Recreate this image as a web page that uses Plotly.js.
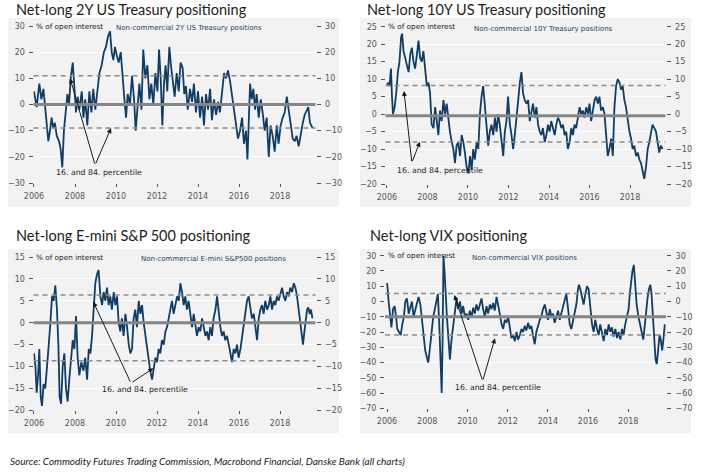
<!DOCTYPE html>
<html><head><meta charset="utf-8">
<script src="https://cdn.plot.ly/plotly-3.0.1.min.js"></script>
<style>body{margin:0;background:#fff}#chart{width:711px;height:474px}</style>
</head><body><div id="chart"></div><script>
// ---------- DATA ----------
const dates2Y = [2006.00,2006.13,2006.26,2006.36,2006.46,2006.54,2006.62,2006.70,2006.78,2006.86,
2006.94,2007.02,2007.11,2007.22,2007.30,2007.38,2007.46,2007.54,2007.63,2007.71,
2007.79,2007.89,2007.97,2008.05,2008.13,2008.21,2008.33,2008.41,2008.50,2008.60,
2008.70,2008.80,2008.89,2008.99,2009.09,2009.19,2009.30,2009.41,2009.51,2009.61,
2009.71,2009.79,2009.87,2009.95,2010.03,2010.13,2010.23,2010.33,2010.41,2010.49,
2010.57,2010.68,2010.78,2010.88,2010.96,2011.04,2011.14,2011.24,2011.33,2011.43,
2011.53,2011.63,2011.72,2011.82,2011.92,2012.02,2012.10,2012.18,2012.26,2012.34,
2012.42,2012.50,2012.60,2012.68,2012.76,2012.86,2012.96,2013.06,2013.15,2013.25,
2013.33,2013.41,2013.50,2013.61,2013.71,2013.80,2013.90,2014.00,2014.10,2014.20,
2014.29,2014.39,2014.49,2014.59,2014.68,2014.78,2014.88,2014.98,2015.07,2015.17,
2015.27,2015.37,2015.46,2015.56,2015.66,2015.76,2015.85,2015.95,2016.05,2016.15,
2016.24,2016.34,2016.41,2016.47,2016.54,2016.62,2016.70,2016.78,2016.86,2016.96,
2017.06,2017.15,2017.25,2017.35,2017.45,2017.54,2017.64,2017.74,2017.84,2017.93,
2018.03,2018.13,2018.23,2018.33,2018.42,2018.52,2018.62,2018.72,2018.81,2018.91,
2019.01,2019.11,2019.20,2019.30,2019.38,2019.46,2019.54,2019.59];
const netLong2Y = [5,-1,8,2,6,0,-6,-14,-10,-5,
-9,-7,-12,-14,-17,-24,-10,-3,4,0,
10,16,8,-3,3,-2,5,-5,2,-8,
5,-3,6,-2,5,12,15,20,22,26,
28,20,17,22,19,16,20,8,2,-5,
4,0,11,2,-10,-2,8,-2,21,10,
15,2,8,0,12,5,21,10,-8,8,
15,5,22,15,10,3,12,5,16,14,
4,7,-2,6,1,8,-3,5,-5,3,
-8,4,-2,6,-6,2,-4,1,-3,4,
12,10,13,9,3,-3,-8,-13,-10,-5,
-15,-10,-21,-5,8,2,6,-2,4,-5,
2,-3,-10,-5,-20,-8,-12,-18,-8,-15,
-8,-5,-3,3,-2,-8,-13,-14,-12,-16,
-11,-7,-4,-2,-1,-7,-8,-9];

const dates10Y = [2006.00,2006.05,2006.13,2006.20,2006.25,2006.30,2006.38,2006.46,2006.54,2006.62,
2006.70,2006.75,2006.82,2006.90,2006.98,2007.07,2007.15,2007.23,2007.31,2007.39,
2007.48,2007.56,2007.64,2007.72,2007.80,2007.89,2007.97,2008.05,2008.13,2008.21,
2008.30,2008.38,2008.46,2008.54,2008.62,2008.70,2008.79,2008.87,2008.95,2009.03,
2009.11,2009.20,2009.28,2009.36,2009.44,2009.52,2009.61,2009.69,2009.77,2009.85,
2009.93,2010.02,2010.10,2010.18,2010.26,2010.34,2010.43,2010.51,2010.59,2010.67,
2010.75,2010.84,2010.92,2011.00,2011.08,2011.16,2011.25,2011.33,2011.41,2011.49,
2011.57,2011.66,2011.74,2011.82,2011.90,2011.98,2012.07,2012.15,2012.23,2012.31,
2012.39,2012.48,2012.56,2012.64,2012.72,2012.80,2012.89,2012.97,2013.05,2013.13,
2013.21,2013.30,2013.38,2013.46,2013.54,2013.62,2013.70,2013.79,2013.87,2013.95,
2014.03,2014.11,2014.20,2014.28,2014.36,2014.44,2014.52,2014.61,2014.69,2014.77,
2014.85,2014.93,2015.02,2015.10,2015.18,2015.26,2015.34,2015.43,2015.51,2015.59,
2015.67,2015.75,2015.84,2015.92,2016.00,2016.08,2016.16,2016.25,2016.33,2016.41,
2016.49,2016.57,2016.66,2016.74,2016.82,2016.90,2016.98,2017.07,2017.15,2017.23,
2017.31,2017.39,2017.48,2017.56,2017.64,2017.72,2017.80,2017.89,2017.97,2018.05,
2018.13,2018.21,2018.30,2018.38,2018.46,2018.54,2018.62,2018.70,2018.79,2018.87,
2018.95,2019.03,2019.11,2019.20,2019.28,2019.36,2019.44,2019.52,2019.61];
const netLong10Y = [8,9,8,13,5,0,2,6,12,15,
22,23,18,16,14,12,17,19,15,13,
17,21,16,15,18,12,8,9,6,-3,
-4,2,-2,-6,1,-2,4,0,3,-2,
-5,-8,-10,-14,-9,-8,-12,-6,-8,-11,
-15,-17,-12,-16,-10,-13,-8,-10,0,5,
8,2,-3,-9,-5,-3,-6,-1,-5,0,
-3,-8,-12,-5,-2,5,-3,-6,-10,-6,
-2,4,9,12,6,4,3,4,-2,1,
3,-1,2,-3,-5,-6,-4,-8,-6,-3,
-5,-2,-4,-6,-3,-1,-2,-4,-3,-6,
-5,-10,-8,-4,-6,-3,-4,-1,2,0,
1,-1,2,0,3,-2,1,4,5,3,
5,1,2,0,-6,-12,-10,-7,-12,2,
8,10,9,7,8,4,2,-2,-5,-7,
-10,-9,-12,-11,-13,-14,-16,-18.5,-15,-10,
-8,-5,-3,-4,-5,-8,-11,-9,-10];

const datesSPX = [2006.00,2006.07,2006.13,2006.20,2006.26,2006.33,2006.39,2006.47,2006.55,2006.63,
2006.72,2006.80,2006.88,2006.96,2007.04,2007.12,2007.19,2007.25,2007.32,2007.40,
2007.48,2007.56,2007.64,2007.72,2007.80,2007.89,2007.97,2008.05,2008.13,2008.21,
2008.31,2008.41,2008.50,2008.59,2008.67,2008.75,2008.83,2008.91,2008.99,2009.07,
2009.15,2009.24,2009.32,2009.40,2009.48,2009.56,2009.64,2009.72,2009.80,2009.89,
2009.97,2010.05,2010.13,2010.21,2010.29,2010.37,2010.46,2010.54,2010.62,2010.70,
2010.78,2010.86,2010.94,2011.02,2011.11,2011.19,2011.27,2011.35,2011.43,2011.51,
2011.59,2011.67,2011.76,2011.84,2011.92,2012.00,2012.08,2012.16,2012.24,2012.33,
2012.41,2012.49,2012.57,2012.65,2012.73,2012.81,2012.89,2012.98,2013.06,2013.14,
2013.22,2013.30,2013.38,2013.46,2013.54,2013.63,2013.71,2013.79,2013.87,2013.95,
2014.03,2014.11,2014.20,2014.28,2014.36,2014.44,2014.52,2014.60,2014.68,2014.76,
2014.85,2014.93,2015.01,2015.09,2015.17,2015.25,2015.33,2015.41,2015.50,2015.58,
2015.66,2015.74,2015.82,2015.90,2015.98,2016.07,2016.15,2016.23,2016.31,2016.39,
2016.47,2016.55,2016.63,2016.72,2016.80,2016.88,2016.96,2017.04,2017.12,2017.20,
2017.28,2017.37,2017.45,2017.53,2017.61,2017.69,2017.77,2017.85,2017.93,2018.02,
2018.10,2018.18,2018.26,2018.34,2018.42,2018.50,2018.59,2018.67,2018.75,2018.83,
2018.91,2018.99,2019.07,2019.12,2019.19,2019.25,2019.32,2019.38,2019.45,2019.51,2019.58];
const netLongSPX = [-7,-10,-16,-12,-6,-17,-19,-14,-15,-11,
-5,0,6,5,8.5,3,-5,-17,-18.5,-10,
-7,-15,-18,-13,-8,-4,-6,1.5,-8,-12,
-9,-11,-8,-13,-6,-7,-3,2,9,11,
12,6,4,7,5,8,4,6,3,7,
4,6,0,-2,1,-3,2,-1,-5,-7,
-6,1,3,-1,5,2,4,0,-3,-6,
-9,-11,-13,-10,-8,-9,-6,-7,-4,-5,
-2,-1,1,3,5,2,4,6,5,9,
7,4,6,3,5,1,-1,2,-1,-3,
-1,-2,1,-1,-3,-2,-4,-1,-3,1,
3,6,2,-1,-3,-2,-4,-3,-5,-7,
-9,-6,-7,-5,-8,-6,-3,-1,2,5,
6,3,1,2,-1,-4,1,3,4,2,
5,3,4,6,3,5,4,6,5,7,
8,6,5,7,6,8,7,9,8,6,
3,0,-3,-5,-2,1,3,3.5,2,3,1];

const datesVIX = [2006.00,2006.02,2006.08,2006.15,2006.22,2006.30,2006.38,2006.45,2006.51,2006.60,
2006.68,2006.76,2006.84,2006.91,2006.99,2007.08,2007.16,2007.24,2007.32,2007.41,
2007.49,2007.57,2007.66,2007.74,2007.82,2007.90,2007.99,2008.05,2008.14,2008.22,
2008.30,2008.38,2008.47,2008.53,2008.60,2008.67,2008.72,2008.76,2008.81,2008.86,
2008.91,2008.98,2009.06,2009.13,2009.21,2009.29,2009.38,2009.46,2009.54,2009.63,
2009.71,2009.79,2009.87,2009.96,2010.04,2010.12,2010.21,2010.29,2010.37,2010.45,
2010.54,2010.62,2010.70,2010.78,2010.87,2010.95,2011.03,2011.12,2011.20,2011.28,
2011.36,2011.45,2011.53,2011.61,2011.70,2011.78,2011.86,2011.94,2012.03,2012.11,
2012.19,2012.27,2012.36,2012.44,2012.52,2012.61,2012.69,2012.77,2012.85,2012.93,
2013.02,2013.10,2013.18,2013.26,2013.35,2013.43,2013.52,2013.60,2013.68,2013.76,
2013.85,2013.93,2014.01,2014.10,2014.18,2014.26,2014.34,2014.43,2014.51,2014.59,
2014.67,2014.76,2014.84,2014.92,2015.01,2015.09,2015.17,2015.25,2015.33,2015.42,
2015.50,2015.55,2015.62,2015.70,2015.78,2015.87,2015.95,2016.03,2016.12,2016.20,
2016.28,2016.36,2016.45,2016.53,2016.61,2016.70,2016.78,2016.86,2016.94,2017.03,
2017.11,2017.19,2017.27,2017.36,2017.44,2017.52,2017.61,2017.69,2017.77,2017.85,
2017.93,2018.02,2018.08,2018.15,2018.21,2018.28,2018.36,2018.42,2018.51,2018.59,
2018.67,2018.75,2018.83,2018.90,2018.96,2019.03,2019.10,2019.16,2019.23,2019.29,
2019.36,2019.42,2019.49,2019.56,2019.62,2019.69,2019.75,2019.82];
const netLongVIX = [12,10,0,-10,-17,-5,-3,-10,-18,-20,
-22,-15,-10,0,2,-8,-3,0,-10,-5,
0,3,-2,-12,-25,-32,-37,-40,-30,-20,
-10,-5,0,5,-15,-40,-60,-30,30,20,
5,-10,-25,-38,-25,-15,-5,2,-5,0,
-8,-3,-10,-8,-12,-6,-10,-4,-8,-2,
-6,-1,2,-5,-10,-3,-8,-2,-5,-1,
-6,3,-4,-8,-15,-18,-12,-14,-10,-18,
-24,-22,-26,-20,-25,-22,-18,-20,-16,-19,
-14,-18,-16,-22,-28,-20,-15,-12,-10,-5,
-2,-8,-12,-5,-10,-8,-14,-10,-6,-12,
-8,-4,0,5,-5,-15,-18,-12,-8,-2,
8,11,8,2,-2,5,10,8,-5,-15,
-20,-12,-18,-22,-15,-20,-26,-18,-22,-15,
-20,-17,-23,-18,-24,-20,-25,-18,-22,-15,
-10,-5,5,15,20,24,10,-2,-10,-15,
-20,-25,-15,-5,2,8,11,5,-10,-25,
-38,-41,-32,-22,-25,-32,-25,-15];

// percentile (16th / 84th) and average reference levels
const pct2Y = [-9, 11],   avg2Y = 0;
const pct10Y = [-8, 8.2], avg10Y = -0.5;
const pctSPX = [-8.7, 6.3], avgSPX = 0;
const pctVIX = [-22, 5.3], avgVIX = -10;

const panelTitles = ["Net-long 2Y US Treasury positioning","Net-long 10Y US Treasury positioning",
  "Net-long E-mini S&P 500 positioning","Net-long VIX positioning"];
const seriesNames = ["Non-commercial 2Y US Treasury positions","Non-commercial 10Y Treasury positions",
  "Non-commercial E-mini S&P500 positions","Non-commercial VIX positions"];
const unitLabel = "% of open interest";
const pctLabel = "16. and 84. percentile";
const xTickVals = [2006,2008,2010,2012,2014,2016,2018];
const xTickText = ["2006","2008","2010","2012","2014","2016","2018"];
const sourceText = "Source: Commodity Futures Trading Commission, Macrobond Financial, Danske Bank (all charts)";

// ---------- LAYOUT ----------
const W = 711, H = 474;
const px = v => v / W, py = v => 1 - v / H;
const lineColor = "#0f3d66";
const tickFont = {family: "DejaVu Sans", size: 8, color: "#555"};

const panels = [
  {x: dates2Y, y: netLong2Y, pct: pct2Y, avg: avg2Y, xd: [33.5, 315.5], yd: [183, 26], xr: [2005.976, 2019.73], yr: [-30, 30], dt: 10,
   box: [8, 339, 18, 207], title: [14, 10], legX: 0.553,
   note: {tx: 2009.17, ty: -25.8, ax: 2008.98, ay: -23.1, h1: [2007.76, 10.0], h2: [2009.76, -9]}},
  {x: dates10Y, y: netLong10Y, pct: pct10Y, avg: avg10Y, xd: [385.5, 665.5], yd: [184, 26.7], xr: [2005.93, 2019.75], yr: [-20, 25], dt: 5,
   box: [360, 691, 18, 207], title: [365, 10], legX: 0.566,
   note: {tx: 2008.62, ty: -16.0, ax: 2007.23, ay: -13.9, h1: [2006.84, 6.6], h2: [2007.63, -7.9]}},
  {x: datesSPX, y: netLongSPX, pct: pctSPX, avg: avgSPX, xd: [33.5, 315.5], yd: [410.3, 257], xr: [2005.976, 2019.73], yr: [-20, 15], dt: 5,
   box: [8, 339, 249, 433], title: [14, 235], legX: 0.640,
   note: {tx: 2011.41, ty: -15.2, ax: 2010.73, ay: -13.8, h1: [2008.89, 4.8], h2: [2011.82, -10.4]}},
  {x: datesVIX, y: netLongVIX, pct: pctVIX, avg: avgVIX, xd: [385, 666], yd: [408.3, 255.7], xr: [2005.90, 2019.88], yr: [-70, 30], dt: 10,
   box: [360, 691, 249, 433], title: [368, 235], legX: 0.498,
   note: {tx: 2011.50, ty: -56.5, ax: 2010.76, ay: -52.1, h1: [2009.35, 4.3], h2: [2011.37, -24.1]}}
];

const data = [], shapes = [], annotations = [];
const layout = {width: W, height: H, margin: {l: 0, r: 0, t: 0, b: 0}, showlegend: false,
  paper_bgcolor: "#fff", plot_bgcolor: "rgba(0,0,0,0)"};

panels.forEach((p, i) => {
  const n = i + 1, sfx = n === 1 ? "" : String(n);
  const xa = "x" + sfx, ya = "y" + sfx, yr = "y" + (n + 4);
  data.push({type: "scatter", mode: "lines", x: p.x, y: p.y, xaxis: xa, yaxis: ya,
    line: {color: lineColor, width: 1.8}, hoverinfo: "skip"});
  // empty trace so the mirrored right-hand axis gets drawn
  data.push({type: "scatter", mode: "lines", x: [], y: [], xaxis: xa, yaxis: yr, hoverinfo: "skip"});
  layout["xaxis" + sfx] = {domain: [px(p.xd[0]), px(p.xd[1])], range: p.xr, anchor: ya,
    tickvals: xTickVals, ticktext: xTickText, ticks: "outside", ticklen: 3, tickcolor: "#555",
    showgrid: false, zeroline: false, showline: false, tickfont: tickFont, fixedrange: true,
    ticklabelstandoff: 2};
  layout["yaxis" + sfx] = {domain: [py(p.yd[0]), py(p.yd[1])], range: p.yr, anchor: xa, dtick: p.dt,
    tick0: 0, ticks: "outside", ticklen: 4, tickcolor: "#555", showgrid: true, gridcolor: "#ffffff",
    gridwidth: 1, zeroline: false, showline: false, tickfont: tickFont, ticklabelstandoff: 2};
  layout["yaxis" + (n + 4)] = {overlaying: ya, side: "right", anchor: xa, range: p.yr, dtick: p.dt,
    tick0: 0, ticks: "outside", ticklen: 4, tickcolor: "#555", showgrid: false, zeroline: false,
    showline: false, tickfont: tickFont, ticklabelstandoff: 3};
  // panel box
  shapes.push({type: "rect", xref: "paper", yref: "paper", layer: "below",
    x0: px(p.box[0]), x1: px(p.box[1]), y0: py(p.box[3]), y1: py(p.box[2]),
    fillcolor: "#f2f2f2", line: {width: 0}});
  // percentile lines
  p.pct.forEach(v => shapes.push({type: "line", xref: xa + " domain", yref: ya, x0: 0, x1: 1, y0: v, y1: v,
    line: {color: "#8c8c8c", width: 1.5, dash: "5px,4px"}, layer: "above"}));
  // average line
  shapes.push({type: "line", xref: xa + " domain", yref: ya, x0: 0, x1: 1, y0: p.avg, y1: p.avg,
    line: {color: "#858585", width: 3}, layer: "above"});
  // title
  annotations.push({xref: "paper", yref: "paper", x: px(p.title[0]), y: py(p.title[1]), xanchor: "left",
    yanchor: "middle", showarrow: false, text: panelTitles[i],
    font: {family: "Lato", size: 14.5, color: "#1c1c1c"}});
  // unit label
  annotations.push({xref: xa + " domain", yref: ya, x: 0.002, y: p.yr[1], xanchor: "left", yanchor: "middle",
    showarrow: false, text: unitLabel, font: {family: "DejaVu Sans", size: 7.3, color: "#222"}});
  // series label
  annotations.push({xref: xa + " domain", yref: ya + " domain", x: p.legX, y: 0.985, xanchor: "center",
    yanchor: "middle", showarrow: false, text: seriesNames[i], font: {family: "DejaVu Sans", size: 7, color: "#1d3f66"}});
  // percentile annotation
  const nt = p.note;
  annotations.push({xref: xa, yref: ya, x: nt.tx, y: nt.ty, showarrow: false, text: pctLabel,
    xanchor: "center", yanchor: "middle", font: {family: "DejaVu Sans", size: 7.8, color: "#222"}});
  [nt.h1, nt.h2].forEach(h => annotations.push({xref: xa, yref: ya, axref: xa, ayref: ya,
    x: h[0], y: h[1], ax: nt.ax, ay: nt.ay, text: "", showarrow: true, arrowhead: 2, arrowsize: 1,
    arrowwidth: 1, arrowcolor: "#1a1a1a", standoff: 0, startstandoff: 0}));
});

annotations.push({xref: "paper", yref: "paper", x: px(8), y: py(461), xanchor: "left", yanchor: "middle",
  showarrow: false, text: "<i>" + sourceText + "</i>", font: {family: "Lato", size: 10, color: "#222"}});

layout.shapes = shapes;
layout.annotations = annotations;
Plotly.newPlot("chart", data, layout, {displayModeBar: false, staticPlot: true});
</script></body></html>
